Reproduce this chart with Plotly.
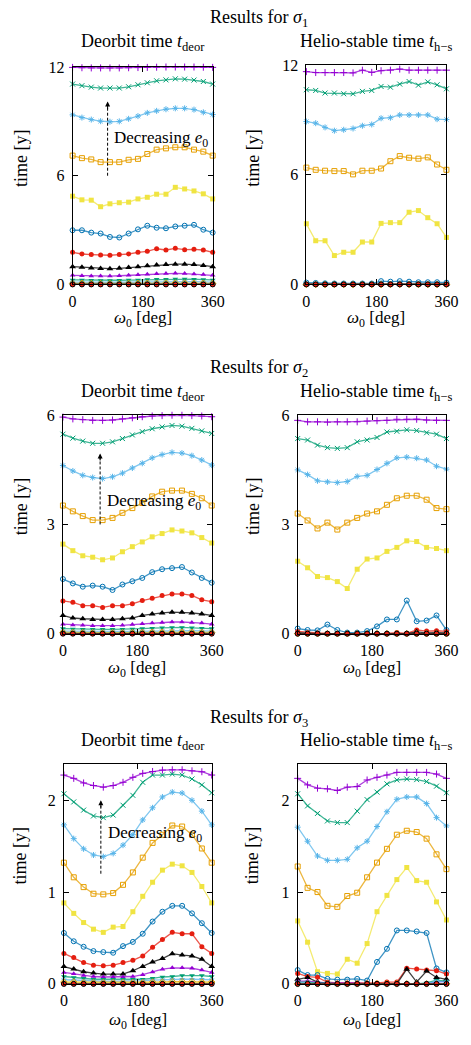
import plotly.graph_objects as go

# ---------------- data ----------------
omega = [0, 24, 48, 72, 96, 120, 144, 168, 192, 216, 240, 264, 288, 312, 336, 360]

colors = ["#9400d3", "#009e73", "#56b4e9", "#e69f00", "#f0e442", "#0072b2", "#e51e10", "#000000"]

# sigma 1 : deorbit time (series 1..16, decreasing e0 from top)
s1_deor = [
    [11.98, 11.96, 11.95, 11.95, 11.95, 11.95, 11.96, 11.97, 11.98, 11.99, 12.0, 12.0, 12.0, 12.0, 11.99, 11.98],
    [11.06, 10.97, 10.89, 10.84, 10.84, 10.84, 10.91, 11.02, 11.13, 11.24, 11.29, 11.35, 11.33, 11.28, 11.2, 11.06],
    [9.36, 9.21, 9.1, 9.01, 8.98, 9.0, 9.14, 9.29, 9.47, 9.58, 9.67, 9.72, 9.72, 9.65, 9.5, 9.38],
    [7.11, 6.97, 6.9, 6.75, 6.75, 6.75, 6.88, 6.93, 7.2, 7.44, 7.51, 7.57, 7.57, 7.44, 7.33, 7.11],
    [4.87, 4.67, 4.65, 4.29, 4.45, 4.51, 4.54, 4.72, 4.81, 4.98, 4.98, 5.36, 5.27, 5.16, 5.0, 4.72],
    [2.99, 2.99, 2.86, 2.81, 2.62, 2.59, 2.81, 3.04, 3.24, 3.13, 3.1, 3.2, 3.24, 3.29, 3.02, 2.86],
    [1.77, 1.68, 1.65, 1.63, 1.61, 1.65, 1.68, 1.77, 1.83, 1.97, 1.9, 1.99, 1.92, 1.94, 1.9, 1.77],
    [0.98, 0.95, 0.91, 0.88, 0.87, 0.89, 0.93, 0.98, 1.03, 1.07, 1.1, 1.12, 1.12, 1.1, 1.05, 0.98],
    [0.5, 0.48, 0.46, 0.46, 0.46, 0.48, 0.5, 0.53, 0.56, 0.59, 0.6, 0.61, 0.6, 0.58, 0.55, 0.5],
    [0.25, 0.24, 0.23, 0.22, 0.22, 0.23, 0.24, 0.25, 0.27, 0.28, 0.29, 0.3, 0.3, 0.29, 0.27, 0.25],
    [0.13, 0.12, 0.12, 0.11, 0.11, 0.12, 0.12, 0.13, 0.14, 0.15, 0.15, 0.16, 0.16, 0.15, 0.14, 0.13],
    [0.06, 0.06, 0.05, 0.05, 0.05, 0.05, 0.06, 0.06, 0.07, 0.07, 0.08, 0.08, 0.08, 0.07, 0.07, 0.06],
    [0.03, 0.03, 0.03, 0.02, 0.02, 0.02, 0.03, 0.03, 0.03, 0.03, 0.04, 0.04, 0.04, 0.03, 0.03, 0.03],
    [0.015, 0.01, 0.01, 0.01, 0.01, 0.01, 0.01, 0.015, 0.015, 0.015, 0.02, 0.02, 0.02, 0.015, 0.015, 0.015],
    [0.005, 0.005, 0.0, 0.0, 0.0, 0.0, 0.005, 0.005, 0.005, 0.005, 0.005, 0.005, 0.005, 0.005, 0.005, 0.005],
    [0.0, 0.0, 0.0, 0.0, 0.0, 0.0, 0.0, 0.0, 0.0, 0.0, 0.0, 0.0, 0.0, 0.0, 0.0, 0.0],
]

# sigma 1 : helio-stable time
s1_hs = [
    [11.64, 11.59, 11.59, 11.59, 11.59, 11.57, 11.72, 11.6, 11.69, 11.72, 11.78, 11.72, 11.72, 11.72, 11.72, 11.72],
    [10.65, 10.61, 10.47, 10.47, 10.43, 10.43, 10.56, 10.61, 10.83, 10.79, 10.96, 11.1, 10.9, 11.08, 10.92, 10.7],
    [8.91, 8.82, 8.59, 8.41, 8.46, 8.53, 8.68, 8.75, 9.09, 9.12, 9.27, 9.27, 9.27, 9.27, 9.04, 9.02],
    [6.39, 6.27, 6.22, 6.2, 6.2, 6.02, 6.22, 6.22, 6.34, 6.74, 7.02, 6.93, 6.88, 6.95, 6.56, 6.27],
    [3.32, 2.39, 2.39, 1.58, 1.76, 1.76, 2.32, 2.32, 3.34, 3.38, 3.38, 3.95, 4.04, 3.65, 3.32, 2.57],
    [0.1, 0.08, 0.06, 0.05, 0.05, 0.05, 0.05, 0.05, 0.18, 0.15, 0.18, 0.15, 0.12, 0.12, 0.12, 0.1],
    [0.02, 0.01, 0.01, 0.0, 0.0, 0.0, 0.0, 0.0, 0.02, 0.02, 0.03, 0.02, 0.02, 0.03, 0.02, 0.02],
    [0.0, 0.0, 0.0, 0.0, 0.0, 0.0, 0.0, 0.0, 0.0, 0.0, 0.0, 0.0, 0.0, 0.0, 0.0, 0.0],
    [0.0, 0.0, 0.0, 0.0, 0.0, 0.0, 0.0, 0.0, 0.0, 0.0, 0.0, 0.0, 0.0, 0.0, 0.0, 0.0],
    [0.0, 0.0, 0.0, 0.0, 0.0, 0.0, 0.0, 0.0, 0.0, 0.0, 0.0, 0.0, 0.0, 0.0, 0.0, 0.0],
    [0.0, 0.0, 0.0, 0.0, 0.0, 0.0, 0.0, 0.0, 0.0, 0.0, 0.0, 0.0, 0.0, 0.0, 0.0, 0.0],
    [0.0, 0.0, 0.0, 0.0, 0.0, 0.0, 0.0, 0.0, 0.0, 0.0, 0.0, 0.0, 0.0, 0.0, 0.0, 0.0],
    [0.0, 0.0, 0.0, 0.0, 0.0, 0.0, 0.0, 0.0, 0.0, 0.0, 0.0, 0.0, 0.0, 0.0, 0.0, 0.0],
    [0.0, 0.0, 0.0, 0.0, 0.0, 0.0, 0.0, 0.0, 0.0, 0.0, 0.0, 0.0, 0.0, 0.0, 0.0, 0.0],
    [0.0, 0.0, 0.0, 0.0, 0.0, 0.0, 0.0, 0.0, 0.0, 0.0, 0.0, 0.0, 0.0, 0.0, 0.0, 0.0],
    [0.0, 0.0, 0.0, 0.0, 0.0, 0.0, 0.0, 0.0, 0.0, 0.0, 0.0, 0.0, 0.0, 0.0, 0.0, 0.0],
]

# sigma 2 : deorbit time
s2_deor = [
    [5.95, 5.9, 5.88, 5.86, 5.86, 5.87, 5.9, 5.93, 5.96, 5.98, 5.99, 6.0, 6.0, 5.99, 5.98, 5.96],
    [5.48, 5.37, 5.29, 5.23, 5.23, 5.27, 5.36, 5.46, 5.55, 5.63, 5.68, 5.72, 5.7, 5.64, 5.57, 5.5],
    [4.62, 4.47, 4.35, 4.29, 4.26, 4.31, 4.41, 4.55, 4.68, 4.83, 4.92, 4.98, 4.96, 4.89, 4.77, 4.63],
    [3.52, 3.36, 3.23, 3.12, 3.12, 3.18, 3.32, 3.45, 3.59, 3.77, 3.9, 3.93, 3.93, 3.84, 3.72, 3.52],
    [2.46, 2.28, 2.14, 2.1, 2.03, 2.08, 2.25, 2.39, 2.52, 2.66, 2.75, 2.85, 2.82, 2.77, 2.64, 2.49],
    [1.5, 1.38, 1.29, 1.32, 1.29, 1.2, 1.35, 1.44, 1.53, 1.69, 1.77, 1.8, 1.83, 1.68, 1.53, 1.4],
    [0.9, 0.86, 0.77, 0.77, 0.72, 0.77, 0.77, 0.82, 0.91, 0.97, 1.05, 1.09, 1.09, 1.05, 0.93, 0.88],
    [0.5, 0.43, 0.41, 0.39, 0.39, 0.39, 0.41, 0.43, 0.5, 0.54, 0.57, 0.59, 0.59, 0.57, 0.54, 0.5],
    [0.26, 0.24, 0.23, 0.22, 0.22, 0.22, 0.23, 0.25, 0.27, 0.29, 0.31, 0.32, 0.32, 0.31, 0.29, 0.26],
    [0.14, 0.13, 0.12, 0.12, 0.12, 0.12, 0.12, 0.13, 0.14, 0.15, 0.16, 0.17, 0.17, 0.16, 0.15, 0.14],
    [0.07, 0.065, 0.06, 0.06, 0.06, 0.06, 0.06, 0.065, 0.07, 0.075, 0.08, 0.085, 0.085, 0.08, 0.075, 0.07],
    [0.035, 0.03, 0.03, 0.03, 0.03, 0.03, 0.03, 0.03, 0.035, 0.04, 0.04, 0.04, 0.04, 0.04, 0.035, 0.035],
    [0.015, 0.015, 0.01, 0.01, 0.01, 0.01, 0.01, 0.015, 0.015, 0.015, 0.02, 0.02, 0.02, 0.02, 0.015, 0.015],
    [0.005, 0.005, 0.005, 0.005, 0.005, 0.005, 0.005, 0.005, 0.005, 0.005, 0.005, 0.005, 0.005, 0.005, 0.005, 0.005],
    [0.0, 0.0, 0.0, 0.0, 0.0, 0.0, 0.0, 0.0, 0.0, 0.0, 0.0, 0.0, 0.0, 0.0, 0.0, 0.0],
    [0.0, 0.0, 0.0, 0.0, 0.0, 0.0, 0.0, 0.0, 0.0, 0.0, 0.0, 0.0, 0.0, 0.0, 0.0, 0.0],
]

# sigma 2 : helio-stable time
s2_hs = [
    [5.86, 5.82, 5.82, 5.81, 5.82, 5.82, 5.82, 5.84, 5.85, 5.86, 5.89, 5.89, 5.89, 5.87, 5.86, 5.86],
    [5.36, 5.32, 5.18, 5.11, 5.09, 5.11, 5.27, 5.32, 5.39, 5.54, 5.56, 5.6, 5.58, 5.52, 5.48, 5.36],
    [4.5, 4.37, 4.2, 4.17, 4.15, 4.18, 4.32, 4.35, 4.51, 4.68, 4.83, 4.85, 4.82, 4.77, 4.6, 4.52],
    [3.3, 3.11, 2.89, 3.05, 2.86, 3.05, 3.18, 3.3, 3.36, 3.54, 3.72, 3.79, 3.79, 3.68, 3.45, 3.42],
    [1.99, 1.81, 1.57, 1.54, 1.43, 1.24, 1.77, 2.05, 2.08, 2.26, 2.37, 2.55, 2.53, 2.37, 2.34, 2.28],
    [0.14, 0.1, 0.09, 0.25, 0.1, 0.03, 0.03, 0.07, 0.2, 0.39, 0.39, 0.91, 0.34, 0.36, 0.5, 0.1],
    [0.06, 0.03, 0.02, 0.01, 0.0, 0.0, 0.0, 0.0, 0.0, 0.01, 0.03, 0.01, 0.1, 0.07, 0.08, 0.06],
    [0.03, 0.01, 0.0, 0.0, 0.0, 0.0, 0.0, 0.0, 0.0, 0.0, 0.0, 0.0, 0.05, 0.02, 0.03, 0.02],
    [0.0, 0.0, 0.0, 0.0, 0.0, 0.0, 0.0, 0.0, 0.0, 0.0, 0.0, 0.0, 0.0, 0.0, 0.0, 0.0],
    [0.0, 0.0, 0.0, 0.0, 0.0, 0.0, 0.0, 0.0, 0.0, 0.0, 0.0, 0.0, 0.0, 0.0, 0.0, 0.0],
    [0.0, 0.0, 0.0, 0.0, 0.0, 0.0, 0.0, 0.0, 0.0, 0.0, 0.0, 0.0, 0.0, 0.0, 0.0, 0.0],
    [0.0, 0.0, 0.0, 0.0, 0.0, 0.0, 0.0, 0.0, 0.0, 0.0, 0.0, 0.0, 0.0, 0.0, 0.0, 0.0],
    [0.0, 0.0, 0.0, 0.0, 0.0, 0.0, 0.0, 0.0, 0.0, 0.0, 0.0, 0.0, 0.0, 0.0, 0.0, 0.0],
    [0.0, 0.0, 0.0, 0.0, 0.0, 0.0, 0.0, 0.0, 0.0, 0.0, 0.0, 0.0, 0.0, 0.0, 0.0, 0.0],
    [0.0, 0.0, 0.0, 0.0, 0.0, 0.0, 0.0, 0.0, 0.0, 0.0, 0.0, 0.0, 0.0, 0.0, 0.0, 0.0],
    [0.0, 0.0, 0.0, 0.0, 0.0, 0.0, 0.0, 0.0, 0.0, 0.0, 0.0, 0.0, 0.0, 0.0, 0.0, 0.0],
]

# sigma 3 : deorbit time
s3_deor = [
    [2.275, 2.239, 2.189, 2.161, 2.143, 2.161, 2.196, 2.25, 2.293, 2.314, 2.329, 2.332, 2.332, 2.321, 2.311, 2.275],
    [2.071, 1.982, 1.893, 1.829, 1.811, 1.839, 1.946, 2.054, 2.196, 2.275, 2.275, 2.286, 2.275, 2.232, 2.168, 2.082],
    [1.732, 1.582, 1.471, 1.404, 1.386, 1.421, 1.511, 1.625, 1.786, 1.918, 2.036, 2.089, 2.079, 2.0, 1.882, 1.732],
    [1.32, 1.161, 1.054, 0.982, 0.975, 0.989, 1.079, 1.214, 1.375, 1.536, 1.625, 1.725, 1.714, 1.625, 1.475, 1.32],
    [0.882, 0.768, 0.668, 0.596, 0.561, 0.618, 0.625, 0.786, 0.954, 1.107, 1.239, 1.304, 1.286, 1.214, 1.061, 0.882],
    [0.554, 0.464, 0.404, 0.357, 0.346, 0.339, 0.411, 0.457, 0.546, 0.679, 0.786, 0.85, 0.85, 0.768, 0.661, 0.554],
    [0.332, 0.286, 0.232, 0.204, 0.196, 0.204, 0.232, 0.257, 0.304, 0.4, 0.482, 0.561, 0.546, 0.546, 0.404, 0.332],
    [0.189, 0.161, 0.132, 0.118, 0.107, 0.107, 0.107, 0.143, 0.189, 0.239, 0.275, 0.329, 0.314, 0.304, 0.268, 0.189],
    [0.125, 0.11, 0.09, 0.08, 0.075, 0.075, 0.075, 0.08, 0.1, 0.13, 0.16, 0.175, 0.175, 0.17, 0.15, 0.125],
    [0.08, 0.07, 0.06, 0.05, 0.05, 0.05, 0.05, 0.05, 0.05, 0.06, 0.075, 0.08, 0.09, 0.09, 0.09, 0.08],
    [0.045, 0.04, 0.035, 0.03, 0.03, 0.03, 0.03, 0.03, 0.035, 0.04, 0.045, 0.05, 0.05, 0.05, 0.05, 0.045],
    [0.02, 0.02, 0.015, 0.015, 0.015, 0.015, 0.015, 0.015, 0.015, 0.02, 0.02, 0.025, 0.025, 0.025, 0.02, 0.02],
    [0.01, 0.01, 0.005, 0.005, 0.005, 0.005, 0.005, 0.005, 0.005, 0.01, 0.01, 0.01, 0.01, 0.01, 0.01, 0.01],
    [0.0, 0.0, 0.0, 0.0, 0.0, 0.0, 0.0, 0.0, 0.0, 0.0, 0.0, 0.0, 0.0, 0.0, 0.0, 0.0],
    [0.0, 0.0, 0.0, 0.0, 0.0, 0.0, 0.0, 0.0, 0.0, 0.0, 0.0, 0.0, 0.0, 0.0, 0.0, 0.0],
    [0.0, 0.0, 0.0, 0.0, 0.0, 0.0, 0.0, 0.0, 0.0, 0.0, 0.0, 0.0, 0.0, 0.0, 0.0, 0.0],
]

# sigma 3 : helio-stable time
s3_hs = [
    [2.239, 2.168, 2.132, 2.125, 2.107, 2.143, 2.15, 2.221, 2.25, 2.275, 2.304, 2.304, 2.304, 2.304, 2.286, 2.239],
    [2.071, 1.939, 1.857, 1.775, 1.757, 1.757, 1.882, 2.007, 2.089, 2.179, 2.221, 2.232, 2.225, 2.204, 2.154, 2.082],
    [1.707, 1.554, 1.393, 1.346, 1.346, 1.357, 1.482, 1.554, 1.714, 1.875, 2.011, 2.036, 2.036, 1.964, 1.811, 1.721],
    [1.279, 1.046, 1.0, 0.85, 0.839, 0.957, 0.993, 1.161, 1.321, 1.471, 1.625, 1.668, 1.654, 1.582, 1.411, 1.25],
    [0.686, 0.454, 0.132, 0.114, 0.107, 0.268, 0.225, 0.439, 0.786, 0.964, 1.136, 1.268, 1.125, 1.107, 0.893, 0.696],
    [0.15, 0.096, 0.096, 0.054, 0.046, 0.046, 0.054, 0.036, 0.239, 0.382, 0.582, 0.582, 0.571, 0.554, 0.168, 0.125],
    [0.114, 0.079, 0.071, 0.018, 0.01, 0.01, 0.01, 0.01, 0.01, 0.02, 0.02, 0.171, 0.161, 0.15, 0.143, 0.107],
    [0.05, 0.07, 0.02, 0.0, 0.0, 0.0, 0.0, 0.0, 0.0, 0.0, 0.0, 0.16, 0.02, 0.14, 0.07, 0.05],
    [0.03, 0.03, 0.02, 0.01, 0.01, 0.01, 0.01, 0.0, 0.0, 0.0, 0.0, 0.0, 0.0, 0.0, 0.02, 0.03],
    [0.02, 0.02, 0.01, 0.01, 0.0, 0.0, 0.0, 0.0, 0.0, 0.0, 0.0, 0.0, 0.0, 0.01, 0.04, 0.03],
    [0.01, 0.01, 0.0, 0.0, 0.0, 0.0, 0.0, 0.0, 0.0, 0.0, 0.0, 0.0, 0.0, 0.0, 0.03, 0.02],
    [0.0, 0.0, 0.0, 0.0, 0.0, 0.0, 0.0, 0.0, 0.0, 0.0, 0.0, 0.0, 0.0, 0.0, 0.0, 0.0],
    [0.0, 0.0, 0.0, 0.0, 0.0, 0.0, 0.0, 0.0, 0.0, 0.0, 0.0, 0.0, 0.0, 0.0, 0.0, 0.0],
    [0.0, 0.0, 0.0, 0.0, 0.0, 0.0, 0.0, 0.0, 0.0, 0.0, 0.0, 0.0, 0.0, 0.0, 0.0, 0.0],
    [0.0, 0.0, 0.0, 0.0, 0.0, 0.0, 0.0, 0.0, 0.0, 0.0, 0.0, 0.0, 0.0, 0.0, 0.0, 0.0],
    [0.0, 0.0, 0.0, 0.0, 0.0, 0.0, 0.0, 0.0, 0.0, 0.0, 0.0, 0.0, 0.0, 0.0, 0.0, 0.0],
]

y_max = [12, 12, 6, 6, 2.39, 2.39]
y_ticks = [[0, 6, 12], [0, 6, 12], [0, 3, 6], [0, 3, 6], [0, 1, 2], [0, 1, 2]]
x_ticks = [0, 180, 360]

row_titles = ["Results for <i>σ</i><sub>1</sub>", "Results for <i>σ</i><sub>2</sub>",
              "Results for <i>σ</i><sub>3</sub>"]
deor_title = "Deorbit time <i>t</i><sub>deor</sub>"
hs_title = "Helio-stable time <i>t</i><sub>h−s</sub>"
x_label = "<i>ω</i><sub>0</sub> [deg]"
y_label = "time [y]"
arrow_label = "Decreasing <i>e</i><sub>0</sub>"

# ---------------- styling ----------------
W, H = 471, 1045
FONT = "Liberation Serif, Times New Roman, serif"

symbols = [
    ("cross-thin-open", 5, True), ("x-thin-open", 5, True), ("asterisk-open", 5, True),
    ("square-open", 5, True), ("square", 5, False), ("circle-open", 5, True),
    ("circle", 5, False), ("triangle-up", 6, False), ("triangle-up", 5, False),
    ("triangle-down", 5, False), ("triangle-down", 5, False), ("diamond-open", 5, True),
    ("diamond", 5, False), ("pentagon-open", 5, True), ("pentagon", 5, False),
    ("circle", 5, False),
]


def rgba(hexc, a):
    h = hexc.lstrip("#")
    r, g, b = int(h[0:2], 16), int(h[2:4], 16), int(h[4:6], 16)
    return f"rgba({r},{g},{b},{a})"


# panel pixel boxes (left, right, top, bottom)
boxes = [
    (71, 216, 60, 281), (313, 458, 58, 281),
    (61, 215, 414, 636), (304, 458, 414, 636),
    (62, 215, 769, 992), (304, 458, 769, 992),
]
panels = [s1_deor, s1_hs, s2_deor, s2_hs, s3_deor, s3_hs]

fig = go.Figure()

for p, data in enumerate(panels):
    xa = "x" if p == 0 else f"x{p+1}"
    ya = "y" if p == 0 else f"y{p+1}"
    for i, vals in enumerate(data):
        col = colors[i % 8]
        sym, size, is_open = symbols[i]
        mline = dict(color=col, width=1)
        mcol = col
        if i == 15:
            mcol = colors[6]
            mline = dict(color="#000000", width=1)
        elif not is_open:
            mline = dict(color=col, width=0)
        fig.add_trace(go.Scatter(
            x=omega, y=vals, xaxis=xa, yaxis=ya, mode="lines+markers",
            line=dict(color=rgba(col, 0.75), width=1.3),
            marker=dict(symbol=sym, size=size, color=mcol, line=mline),
            cliponaxis=False, showlegend=False, hoverinfo="skip",
        ))

layout = dict(
    width=W, height=H, margin=dict(l=0, r=0, t=0, b=0),
    paper_bgcolor="white", plot_bgcolor="white", showlegend=False,
    font=dict(family=FONT, color="black"),
)

for p, (l, r, t, b) in enumerate(boxes):
    xk = "xaxis" if p == 0 else f"xaxis{p+1}"
    yk = "yaxis" if p == 0 else f"yaxis{p+1}"
    xa = "x" if p == 0 else f"x{p+1}"
    ya = "y" if p == 0 else f"y{p+1}"
    layout[xk] = dict(
        domain=[l / W, r / W], anchor=ya, range=[0, 360], tickvals=x_ticks,
        ticks="inside", ticklen=5, tickcolor="black", showline=True, linecolor="black",
        linewidth=1, mirror="ticks", showgrid=False, zeroline=False,
        tickfont=dict(family=FONT, size=16, color="black"), ticklabelstandoff=2,
    )
    layout[yk] = dict(
        domain=[1 - b / H, 1 - t / H], anchor=xa, range=[0, y_max[p]], tickvals=y_ticks[p],
        ticks="inside", ticklen=5, tickcolor="black", showline=True, linecolor="black",
        linewidth=1, mirror="ticks", showgrid=False, zeroline=False,
        tickfont=dict(family=FONT, size=16, color="black"), ticklabelstandoff=4,
    )

fig.update_layout(**layout)

ann = []


def pann(text, x, y, size, angle=0):
    ann.append(dict(text=text, x=x / W, y=1 - y / H, xref="paper", yref="paper",
                    xanchor="center", yanchor="middle", showarrow=False, textangle=angle,
                    font=dict(family=FONT, size=size, color="black")))


row_title_y = [11, 366, 722]
sub_title_y = [35, 391, 746]
xlab_y = [316, 672, 1030]
ylab_y = [153, 507, 862]
for r in range(3):
    pann(row_titles[r], 264, row_title_y[r], 18)
    lb, rb = boxes[2 * r], boxes[2 * r + 1]
    pann(deor_title, 144, sub_title_y[r], 18)
    pann(hs_title, 385, sub_title_y[r], 18)
    pann(x_label, (lb[0] + lb[1]) / 2, xlab_y[r], 17)
    pann(x_label, (rb[0] + rb[1]) / 2, xlab_y[r], 17)
    pann(y_label, 17, ylab_y[r], 18, -90)
    pann(y_label, 257, ylab_y[r], 18, -90)

# "Decreasing e0" arrows in deorbit panels
arrow_x = 90
arrow_y0 = [6.0, 3.0, 1.2]
arrow_y1 = [10.1, 4.95, 2.0]
label_pos = [(101, 8.0), (103, 3.63), (102, 1.63)]
shapes = []
for r in range(3):
    p = 2 * r
    xa = "x" if p == 0 else f"x{p+1}"
    ya = "y" if p == 0 else f"y{p+1}"
    span = arrow_y1[r] - arrow_y0[r]
    shapes.append(dict(type="line", xref=xa, yref=ya, x0=arrow_x, x1=arrow_x,
                       y0=arrow_y0[r], y1=arrow_y1[r] - 0.05 * span,
                       line=dict(color="black", width=1, dash="3px,2px")))
    ann.append(dict(x=arrow_x, y=arrow_y1[r], ax=arrow_x, ay=arrow_y1[r] - 0.12 * span,
                    xref=xa, yref=ya, axref=xa, ayref=ya, showarrow=True, text="",
                    arrowhead=2, arrowsize=1, arrowwidth=1, arrowcolor="black"))
    ann.append(dict(text=arrow_label, x=label_pos[r][0], y=label_pos[r][1], xref=xa, yref=ya,
                    xanchor="left", yanchor="middle", showarrow=False,
                    font=dict(family=FONT, size=17, color="black")))

fig.update_layout(annotations=ann, shapes=shapes)
fig.write_html(
    "out.html",
    config={"displayModeBar": False},
    post_script="document.body.style.margin='0';document.body.style.overflow='hidden';",
)
